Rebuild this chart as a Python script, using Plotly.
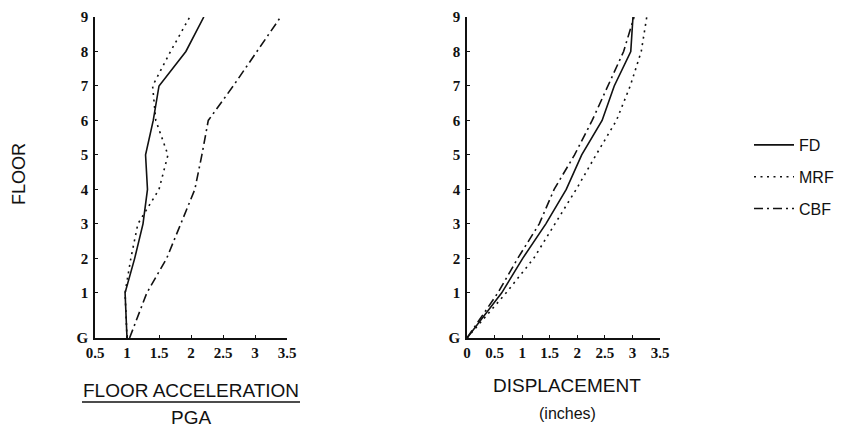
import plotly.graph_objects as go

# ---- data ----
floor_labels = ["G", "1", "2", "3", "4", "5", "6", "7", "8", "9"]
floor_levels = [-0.31, 1, 2, 3, 4, 5, 6, 7, 8, 9]   # G drawn lower (taller first story)

# Floor acceleration / PGA
acc_fd  = [1.00, 0.97, 1.12, 1.25, 1.32, 1.29, 1.41, 1.50, 1.92, 2.20]
acc_mrf = [1.00, 0.97, 1.06, 1.17, 1.50, 1.64, 1.45, 1.40, 1.68, 1.98]
acc_cbf = [1.04, 1.31, 1.62, 1.84, 2.06, 2.17, 2.27, 2.66, 3.03, 3.40]

# Displacement (inches)
disp_fd  = [0.00, 0.63, 1.01, 1.43, 1.80, 2.08, 2.45, 2.67, 2.97, 3.01]
disp_mrf = [0.00, 0.71, 1.21, 1.60, 1.98, 2.34, 2.71, 2.96, 3.16, 3.26]
disp_cbf = [0.00, 0.56, 0.92, 1.31, 1.58, 1.95, 2.27, 2.56, 2.84, 3.03]

series_names = ["FD", "MRF", "CBF"]
x_ticks_acc = [0.5, 1, 1.5, 2, 2.5, 3, 3.5]
x_tick_labels_acc = ["0.5", "1", "1.5", "2", "2.5", "3", "3.5"]
x_ticks_disp = [0, 0.5, 1, 1.5, 2, 2.5, 3, 3.5]
x_tick_labels_disp = ["0", "0.5", "1", "1.5", "2", "2.5", "3", "3.5"]

W, H = 850, 431
OFF = 8  # page body margin offset


def px(x):
    return (x - OFF) / W


def py(y):
    return 1 - (y - OFF) / H


INK = "#111111"
dashes = {"FD": "solid", "MRF": "2px,4.5px", "CBF": "9px,4px,2px,4px"}

fig = go.Figure()
acc = {"FD": acc_fd, "MRF": acc_mrf, "CBF": acc_cbf}
disp = {"FD": disp_fd, "MRF": disp_mrf, "CBF": disp_cbf}
for i, name in enumerate(series_names):
    fig.add_trace(go.Scatter(x=acc[name], y=floor_levels, mode="lines", name=name,
                             line=dict(color=INK, width=1.6, dash=dashes[name]),
                             xaxis="x", yaxis="y", showlegend=True,
                             legendgroup=name))
    fig.add_trace(go.Scatter(x=disp[name], y=floor_levels, mode="lines", name=name,
                             line=dict(color=INK, width=1.6, dash=dashes[name]),
                             xaxis="x2", yaxis="y2", showlegend=False,
                             legendgroup=name))

tickfont = dict(family="Liberation Serif", size=15, color=INK, weight="bold")
common_x = dict(showgrid=False, zeroline=False, showline=True, linecolor=INK, linewidth=1.5,
                ticks="inside", ticklen=3, tickcolor=INK, tickwidth=1.2, tickfont=tickfont,
                mirror=False, automargin=False, ticklabeloverflow="allow")
common_y = dict(showgrid=False, zeroline=False, showline=True, linecolor=INK, linewidth=1.5,
                ticks="inside", ticklen=3, tickcolor=INK, tickwidth=1.2, tickfont=tickfont,
                tickvals=floor_levels, ticktext=floor_labels, range=[-0.31, 9],
                ticklabelstandoff=2, automargin=False, ticklabeloverflow="allow")

ydom = [py(338), py(17)]
fig.update_layout(
    width=W, height=H,
    margin=dict(l=0, r=0, t=0, b=0, autoexpand=False),
    paper_bgcolor="white", plot_bgcolor="white",
    font=dict(family="Liberation Sans", color=INK),
    xaxis=dict(**common_x, domain=[px(95), px(287)], range=[0.5, 3.5],
               tickvals=x_ticks_acc, ticktext=x_tick_labels_acc, anchor="y"),
    yaxis=dict(**common_y, domain=ydom, anchor="x"),
    xaxis2=dict(**common_x, domain=[px(467), px(660)], range=[0, 3.5],
                tickvals=x_ticks_disp, ticktext=x_tick_labels_disp, anchor="y2"),
    yaxis2=dict(**common_y, domain=ydom, anchor="x2"),
    legend=dict(x=px(749), y=py(128), xanchor="left", yanchor="top",
                font=dict(family="Liberation Sans", size=16, color=INK),
                bgcolor="rgba(0,0,0,0)", tracegroupgap=8, itemwidth=40),
    showlegend=True,
)

title_font = dict(family="Liberation Sans", size=19, color=INK)
ann = [
    dict(text="FLOOR", x=px(19), y=py(174), textangle=-90, font=dict(family="Liberation Sans", size=18, color=INK)),
    dict(text="FLOOR ACCELERATION", x=px(191), y=py(390)),
    dict(text="PGA", x=px(191), y=py(417)),
    dict(text="DISPLACEMENT", x=px(567), y=py(385)),
    dict(text="(inches)", x=px(567), y=py(413), font=dict(family="Liberation Sans", size=16, color=INK)),
]
for a in ann:
    fig.add_annotation(xref="paper", yref="paper", showarrow=False,
                       xanchor="center", yanchor="middle",
                       font=a.pop("font", title_font), **a)

fig.add_shape(type="line", xref="paper", yref="paper",
              x0=px(82), x1=px(300), y0=py(402), y1=py(402),
              line=dict(color=INK, width=1.5))

fig.write_html("out.html")
